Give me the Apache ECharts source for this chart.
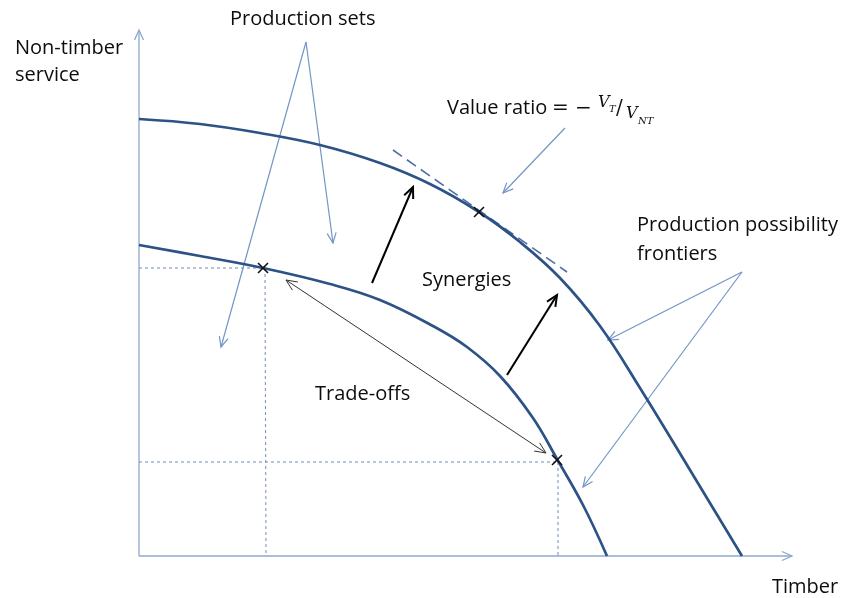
<!DOCTYPE html>
<html>
<head>
<meta charset="utf-8">
<script src="https://cdn.jsdelivr.net/npm/echarts@6/dist/echarts.min.js"></script>
<style>
html,body{margin:0;padding:0;background:#fff;}
#chart{width:859px;height:598px;}
</style>
</head>
<body>
<div id="chart"></div>
<script>
// ---- data (diagram units: x = timber, y = non-timber service) ----
const outerFrontier = [[0,437],[61,432],[121,423],[181,411],[241,393],[291,372],[340,344],[381,314],[421,278],[461,230],[501,168],[551,86],[603,0]];
const innerFrontier = [[0,311],[61,300],[124,288],[191,272],[241,256],[294,230],[328,209],[361,180],[394,138],[418,97],[444,51],[468,0]];
const optimumPoints = [[340,344],[124,288],[418,96]];
const tangentSegment = [[254,406,428,284]];
const guideSegments = [[0,288,124,288],[126,288,127,0],[0,94,418,94],[419,94,419,0]];
const axisArrows = [[0,0,0,526],[0,0,653,0]];
const annotationArrows = [[167,514,194,313],[167,514,82,209],[426,428,364,363],[603,284,469,216],[603,284,444,69]];
const shiftArrows = [[233,273,274,369],[368,181,418,261]];
const tradeOffArrow = [[147,276,407,103]];
const xMax = 655, yMax = 526;

function head(tip, from, len, spread) {
  const a = Math.atan2(tip[1] - from[1], tip[0] - from[0]);
  return {
    type: 'polyline',
    shape: { points: [
      [tip[0] - len * Math.cos(a - spread), tip[1] - len * Math.sin(a - spread)],
      tip,
      [tip[0] - len * Math.cos(a + spread), tip[1] - len * Math.sin(a + spread)]
    ]}
  };
}

function segSeries(data, color, width, heads, dash, hlen) {
  return {
    type: 'custom',
    coordinateSystem: 'cartesian2d',
    silent: true,
    z: 3,
    data: data,
    encode: { x: [0, 2], y: [1, 3] },
    renderItem: function (params, api) {
      const p1 = api.coord([api.value(0), api.value(1)]);
      const p2 = api.coord([api.value(2), api.value(3)]);
      const st = { stroke: color, lineWidth: width, fill: null };
      if (dash) st.lineDash = dash;
      const children = [{ type: 'line', shape: { x1: p1[0], y1: p1[1], x2: p2[0], y2: p2[1] }, style: st }];
      const hs = { stroke: color, lineWidth: width, fill: null };
      if (heads >= 1) { const h = head(p2, p1, hlen || 10, 0.42); h.style = hs; children.push(h); }
      if (heads >= 2) { const h = head(p1, p2, hlen || 10, 0.42); h.style = hs; children.push(h); }
      return { type: 'group', children: children };
    }
  };
}

const chart = echarts.init(document.getElementById('chart'), null, { renderer: 'canvas' });
const font = '"Open Sans", "Liberation Sans", sans-serif';
const serif = '"DejaVu Serif", "Liberation Serif", serif';

function txt(text, x, y, size) {
  return {
    type: 'text', left: x, top: y, z: 10,
    style: { text: text, font: size + 'px ' + font, fill: '#0d0d0d' }
  };
}

const option = {
  animation: false,
  backgroundColor: '#fff',
  grid: { left: 139, top: 30, width: 655, height: 526, containLabel: false },
  xAxis: { type: 'value', min: 0, max: xMax, show: false },
  yAxis: { type: 'value', min: 0, max: yMax, show: false },
  series: [
    segSeries(axisArrows, '#8ea8cd', 1.3, 1, null, 11),
    segSeries(guideSegments, '#7f98bd', 1.1, 0, [3, 3]),
    segSeries(tangentSegment, '#4d6ea8', 1.6, 0, [11, 6]),
    {
      type: 'line', data: outerFrontier, smooth: 0.4, showSymbol: false, silent: true, z: 4,
      lineStyle: { color: '#2d5286', width: 2.7 }
    },
    {
      type: 'line', data: innerFrontier, smooth: 0.4, showSymbol: false, silent: true, z: 4,
      lineStyle: { color: '#2d5286', width: 2.7 }
    },
    segSeries(annotationArrows, '#7495c6', 1.2, 1, null, 11),
    segSeries(shiftArrows, '#000', 2, 1, null, 12),
    segSeries(tradeOffArrow, '#333', 1, 2, null, 12),
    {
      type: 'custom', coordinateSystem: 'cartesian2d', silent: true, z: 6,
      data: optimumPoints,
      renderItem: function (params, api) {
        const p = api.coord([api.value(0), api.value(1)]);
        const s = 5, st = { stroke: '#111', lineWidth: 1.6 };
        return { type: 'group', children: [
          { type: 'line', shape: { x1: p[0]-s, y1: p[1]-s, x2: p[0]+s, y2: p[1]+s }, style: st },
          { type: 'line', shape: { x1: p[0]-s, y1: p[1]+s, x2: p[0]+s, y2: p[1]-s }, style: st }
        ]};
      }
    }
  ],
  graphic: [
    txt('Production sets', 230, 9, 20),
    txt('Non-timber', 15, 38, 20),
    txt('service', 15, 65, 20),
    txt('Timber', 772, 577, 20),
    txt('Synergies', 422, 270, 20),
    txt('Trade-offs', 315, 384, 20),
    txt('Production possibility', 637, 215, 20),
    txt('frontiers', 637, 244, 20),
    txt('Value ratio', 447, 98, 20),
    { type: 'text', left: 552, top: 99, z: 10, style: { text: '= −', font: '20px ' + serif, fill: '#111' } },
    { type: 'text', left: 598, top: 95, z: 10, style: { text: 'V', font: 'italic 16px ' + serif, fill: '#111' } },
    { type: 'text', left: 609, top: 104, z: 10, style: { text: 'T', font: 'italic 10px ' + serif, fill: '#111' } },
    { type: 'text', left: 616, top: 99, z: 10, style: { text: '/', font: '20px ' + serif, fill: '#111' } },
    { type: 'text', left: 626, top: 106, z: 10, style: { text: 'V', font: 'italic 16px ' + serif, fill: '#111' } },
    { type: 'text', left: 638, top: 116, z: 10, style: { text: 'NT', font: 'italic 10px ' + serif, fill: '#111' } }
  ]
};
chart.setOption(option);
</script>
</body>
</html>
